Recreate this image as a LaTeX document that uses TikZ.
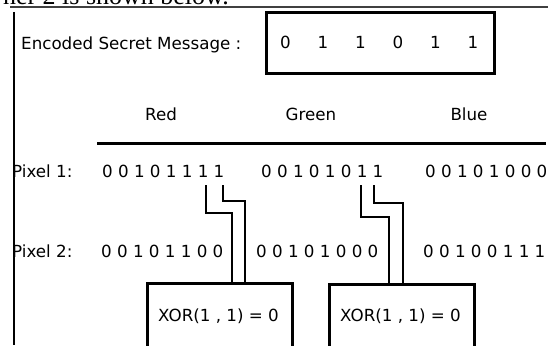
\documentclass[tikz,border=0pt]{standalone}
\usepackage{fontspec}
\setmainfont{DejaVu Sans}
\newfontfamily\pageserif{Liberation Serif}
\begin{document}
\begin{tikzpicture}[x=1pt,y=-1pt,
  lbl/.style={inner sep=0pt, font=\fontsize{16.7}{20}\selectfont},
  bitrow/.style={lbl, anchor=base west},
  frame/.style={draw, line width=3pt, inner sep=0pt},
  wire/.style={draw, line width=2.8pt, line join=miter}]
\useasboundingbox (0,0) rectangle (548,345);
\clip (0,0) rectangle (548,345);

% running text of the page and its rule
\node[inner sep=0pt, anchor=base east, font=\pageserif\fontsize{26}{30}\selectfont]
  (pagetext) at (229,5) {ner 2 is shown below.};
\coordinate (ruleL) at (10,7);
\coordinate (ruleR) at (548,7);
\draw[line width=1.1pt, black!75] (ruleL) -- (ruleR);

% secret message
\node[lbl, anchor=base west] (enc) at (21,49) {Encoded Secret Message :};
\node[frame, anchor=north west, minimum width=228pt, minimum height=61pt] (msgbox) at (265,11) {};
\foreach \b [count=\i] in {0,1,1,0,1,1}
  \node[lbl, anchor=base] (bit\i) at ({285.5+37.5*(\i-1)},48.5) {\b};

% channel headers
\node[lbl, anchor=base] (red) at (161,120) {Red};
\node[lbl, anchor=base] (green) at (311,120) {Green};
\node[lbl, anchor=base] (blue) at (469,120) {Blue};
\coordinate (hdrL) at (97,143);
\coordinate (hdrR) at (546,143);
\draw[line width=3pt] (hdrL) -- (hdrR);

% pixel values
\node[bitrow] (p1lbl) at (12,177) {Pixel 1:};
\node[bitrow] (p1r) at (102,177) {0 0 1 0 1 1 1 1};
\node[bitrow] (p1g) at (261,177) {0 0 1 0 1 0 1 1};
\node[bitrow] (p1b) at (425,177) {0 0 1 0 1 0 0 0};

\node[bitrow] (p2lbl) at (12,257) {Pixel 2:};
\node[bitrow] (p2r) at (101,257) {0 0 1 0 1 1 0 0};
\node[bitrow] (p2g) at (256,257) {0 0 1 0 1 0 0 0};
\node[bitrow] (p2b) at (423,257) {0 0 1 0 0 1 1 1};

% left margin rule
\coordinate (marginT) at (14,12);
\coordinate (marginB) at (14,345);
\draw[line width=2.4pt] (marginT) -- (marginB);

% XOR boxes
\node[frame, anchor=north west, minimum width=145pt, minimum height=80pt] (xor1) at (146,282) {};
\node[frame, anchor=north west, minimum width=145pt, minimum height=80pt] (xor2) at (328,283) {};
\node[lbl, anchor=base] (xor1txt) at (218.5,321) {XOR(1 , 1) = 0};
\node[lbl, anchor=base] (xor2txt) at (400.5,321) {XOR(1 , 1) = 0};

% wires from the last two bits of each channel down to the XOR boxes
\coordinate (w1) at (206,185);
\coordinate (w2) at (223,185);
\coordinate (w3) at (361,185);
\coordinate (w4) at (374,185);
\draw[wire] (w1) -- ++(0,28) -| (232,0 |- xor1.north);
\draw[wire] (w2) -- ++(0,16) -| (245,0 |- xor1.north);
\draw[wire] (w3) -- ++(0,32) -| (389,0 |- xor2.north);
\draw[wire] (w4) -- ++(0,18) -| (403,0 |- xor2.north);
\end{tikzpicture}
\end{document}
